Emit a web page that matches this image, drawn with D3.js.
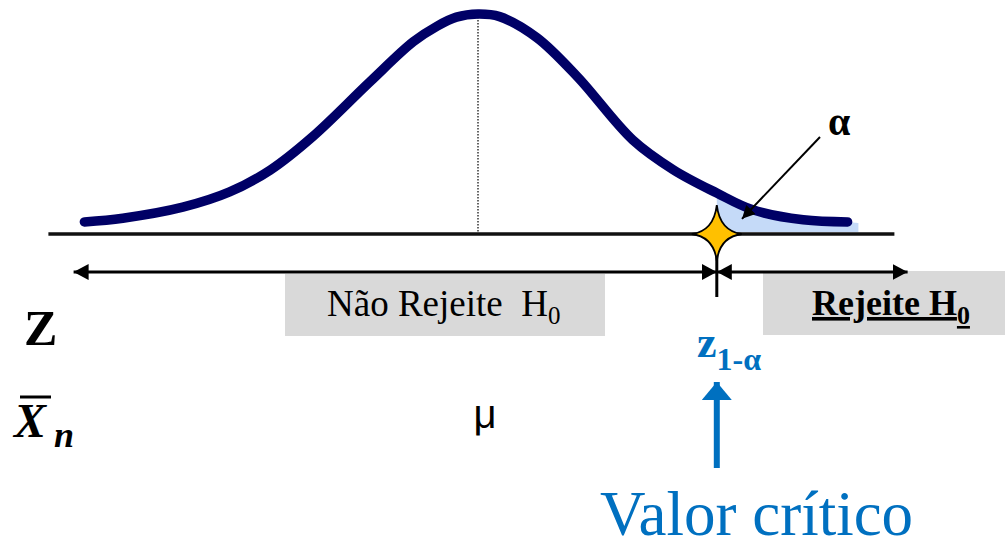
<!DOCTYPE html>
<html>
<head>
<meta charset="utf-8">
<title>Valor crítico</title>
<style>
  body { margin: 0; background: #fff; }
  text { white-space: pre; }
</style>
<script type="text/javascript" src="https://d3js.org/d3.v7.min.js"></script>
</head>
<body>
<svg id="chart" width="1005" height="543"></svg>
<script type="text/javascript">
// curve: z (in sigma units) and density
const curveZ = [-3.28, -2.96, -2.46, -2.07, -1.73, -1.38, -0.9, -0.54, -0.34, -0.18, 0,
                0.18, 0.49, 0.83, 1.29, 1.63, 1.99, 2.29, 2.71, 3.08];
const curveDensity = [0.004, 0.011, 0.032, 0.061, 0.103, 0.166, 0.271, 0.347, 0.377, 0.394, 0.4,
                      0.395, 0.355, 0.28, 0.16, 0.103, 0.059, 0.027, 0.008, 0.004];
const zCrit = 1.99;
const tailEnd = [3.17, 0.002];

const regionLabels = ["Não Rejeite  H", "Rejeite H"];
const criticalLabel = "Valor crítico";

const svg = d3.select("#chart");
const AXIS_Y = 234;
const ARROW_Y = 272;

const xScale = d3.scaleLinear().domain([-4, 4]).range([-2, 958]);
const yScale = d3.scaleLinear().domain([0, 0.4]).range([224, 14]);

const curveData = curveZ.map((z, i) => ({ z: z, d: curveDensity[i] }));
const tailData = curveData.filter(p => p.z >= zCrit).concat([{ z: tailEnd[0], d: tailEnd[1] }]);

const defs = svg.append("defs");
function arrowMarker(id, len, half, color) {
    defs.append("marker")
        .attr("id", id)
        .attr("viewBox", `0 ${-half} ${len} ${half * 2}`)
        .attr("refX", len).attr("refY", 0)
        .attr("markerUnits", "userSpaceOnUse")
        .attr("markerWidth", len).attr("markerHeight", half * 2)
        .attr("orient", "auto-start-reverse")
        .append("path")
        .attr("d", `M0,${-half}L${len},0L0,${half}Z`)
        .attr("fill", color);
}
arrowMarker("blackHead", 15, 8, "#000");
arrowMarker("alphaHead", 13, 6.5, "#000");
arrowMarker("blueHead", 18, 15, "#0070c0");

// region label boxes (under the arrows)
svg.append("rect")
   .attr("x", 285).attr("y", 274).attr("width", 320).attr("height", 62)
   .attr("fill", "#d9d9d9");
svg.append("rect")
   .attr("x", 763).attr("y", 271).attr("width", 242).attr("height", 64)
   .attr("fill", "#d9d9d9");

// shaded alpha area
svg.append("path")
   .datum(tailData)
   .attr("fill", "#c5daf8")
   .attr("d", d3.area()
       .x(d => xScale(d.z))
       .y0(AXIS_Y - 2)
       .y1(d => yScale(d.d))
       .curve(d3.curveCatmullRom));

// dotted line at mean
svg.append("line")
   .attr("x1", xScale(0)).attr("x2", xScale(0))
   .attr("y1", yScale(0.4)).attr("y2", AXIS_Y)
   .attr("stroke", "#000").attr("stroke-width", 1.2)
   .attr("stroke-dasharray", "1.5,1.5");

// baseline
svg.append("line")
   .attr("x1", xScale(-3.58)).attr("x2", xScale(3.47))
   .attr("y1", AXIS_Y).attr("y2", AXIS_Y)
   .attr("stroke", "#111").attr("stroke-width", 3.5);

// normal curve
svg.append("path")
   .datum(curveData)
   .attr("fill", "none")
   .attr("stroke", "#000066")
   .attr("stroke-width", 9.5)
   .attr("stroke-linecap", "round")
   .attr("stroke-linejoin", "round")
   .attr("d", d3.line()
       .x(d => xScale(d.z))
       .y(d => yScale(d.d))
       .curve(d3.curveCatmullRom));

// region arrows
const xc = xScale(zCrit);
[[-3.37, zCrit], [zCrit, 3.58]].forEach(r => {
    svg.append("line")
       .attr("x1", xScale(r[0])).attr("x2", xScale(r[1]))
       .attr("y1", ARROW_Y).attr("y2", ARROW_Y)
       .attr("stroke", "#000").attr("stroke-width", 3)
       .attr("marker-start", "url(#blackHead)")
       .attr("marker-end", "url(#blackHead)");
});
svg.append("line")
   .attr("x1", xc).attr("x2", xc)
   .attr("y1", 250).attr("y2", 297)
   .attr("stroke", "#000").attr("stroke-width", 3);

// star at critical value
const star = d3.path();
star.moveTo(xc, AXIS_Y - 29);
star.quadraticCurveTo(xc + 3, AXIS_Y - 3, xc + 25, AXIS_Y);
star.quadraticCurveTo(xc + 3, AXIS_Y + 3, xc, AXIS_Y + 27);
star.quadraticCurveTo(xc - 3, AXIS_Y + 3, xc - 25, AXIS_Y);
star.quadraticCurveTo(xc - 3, AXIS_Y - 3, xc, AXIS_Y - 29);
star.closePath();
svg.append("path")
   .attr("d", star.toString())
   .attr("fill", "#ffc000")
   .attr("stroke", "#000").attr("stroke-width", 1.8)
   .attr("stroke-linejoin", "miter");

// alpha pointer
svg.append("line")
   .attr("x1", 820).attr("y1", 137)
   .attr("x2", xScale(2.2)).attr("y2", yScale(0.006) - 2)
   .attr("stroke", "#000").attr("stroke-width", 2)
   .attr("marker-end", "url(#alphaHead)");
svg.append("text")
   .attr("x", 828).attr("y", 135)
   .attr("font-family", "Liberation Serif")
   .attr("font-weight", "bold")
   .attr("font-size", 40)
   .text("α");

const t1 = svg.append("text")
   .attr("x", 327).attr("y", 316)
   .attr("font-family", "Liberation Serif")
   .attr("font-size", 37)
   .attr("fill", "#000");
t1.append("tspan").text(regionLabels[0]);
t1.append("tspan").attr("dy", 8).attr("font-size", 25).text("0");

const t2 = svg.append("text")
   .attr("x", 812).attr("y", 315)
   .attr("font-family", "Liberation Serif")
   .attr("font-weight", "bold")
   .attr("font-size", 36)
   .attr("text-decoration", "underline")
   .attr("fill", "#000");
t2.append("tspan").text(regionLabels[1]);
t2.append("tspan").attr("dy", 9).attr("font-size", 26).text("0");

// scale labels on the left
svg.append("text")
   .attr("x", 24).attr("y", 345)
   .attr("font-family", "Liberation Serif")
   .attr("font-weight", "bold")
   .attr("font-size", 50)
   .text("Z");
svg.append("text")
   .attr("x", 14).attr("y", 437)
   .attr("font-family", "Liberation Serif")
   .attr("font-weight", "bold")
   .attr("font-style", "italic")
   .attr("font-size", 48)
   .text("X");
svg.append("line")
   .attr("x1", 20).attr("x2", 51).attr("y1", 397).attr("y2", 397)
   .attr("stroke", "#000").attr("stroke-width", 3);
svg.append("text")
   .attr("x", 54).attr("y", 447)
   .attr("font-family", "Liberation Serif")
   .attr("font-weight", "bold")
   .attr("font-style", "italic")
   .attr("font-size", 36)
   .text("n");

// mu under the mean
svg.append("text")
   .attr("x", xScale(0) + 7).attr("y", 428)
   .attr("text-anchor", "middle")
   .attr("font-family", "Liberation Sans")
   .attr("font-size", 40)
   .text("μ");

// critical value label
const zl = svg.append("text")
   .attr("x", 697).attr("y", 357)
   .attr("font-family", "Liberation Serif")
   .attr("font-weight", "bold")
   .attr("font-size", 44)
   .attr("fill", "#0070c0");
zl.append("tspan").text("z");
zl.append("tspan").attr("dy", 13).attr("font-size", 32).text("1-α");

svg.append("line")
   .attr("x1", xc).attr("x2", xc)
   .attr("y1", 468).attr("y2", 382)
   .attr("stroke", "#0070c0").attr("stroke-width", 6)
   .attr("marker-end", "url(#blueHead)");

svg.append("text")
   .attr("x", 600).attr("y", 535)
   .attr("font-family", "Liberation Serif")
   .attr("font-size", 63)
   .attr("fill", "#0070c0")
   .text(criticalLabel);
</script>
</body>
</html>
